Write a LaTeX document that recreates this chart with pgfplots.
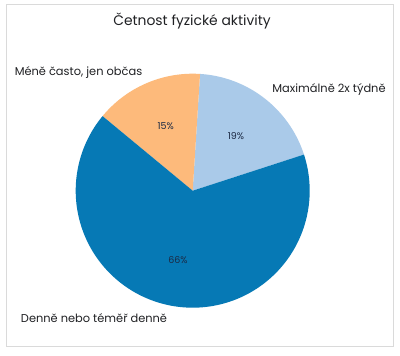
\documentclass[border=0pt]{standalone}
\usepackage{pgfplots}
\pgfplotsset{compat=1.18}
\usepackage{pgfplotstable}
\usepackage{fontspec}
\setmainfont{Poppins}
\definecolor{dblue}{HTML}{0679B5}
\definecolor{lblue}{HTML}{AACAE9}
\definecolor{lorange}{HTML}{FDBA7B}
\definecolor{txt}{HTML}{202124}
\definecolor{pct}{HTML}{1C2A44}
\definecolor{frame}{HTML}{DADADA}
\pgfplotstableread{
label value
D 66
M 19
O 15
}\piedata
\begin{document}
\begin{tikzpicture}[x=1bp,y=1bp]
\pgfplotstablegetelem{0}{value}\of\piedata \let\vD\pgfplotsretval
\pgfplotstablegetelem{1}{value}\of\piedata \let\vM\pgfplotsretval
\pgfplotstablegetelem{2}{value}\of\piedata \let\vO\pgfplotsretval
\pgfmathsetmacro{\aA}{18}
\pgfmathsetmacro{\aB}{\aA+3.6*\vM}
\pgfmathsetmacro{\aC}{\aB+3.6*\vO}
\pgfmathsetmacro{\aD}{\aC+3.6*\vD}
\fill[white] (0,0) rectangle (400,356);
\draw[frame, line width=1bp] (6.5,9.5) rectangle (393.5,351.5);
\begin{axis}[
  at={(75.7bp,48.3bp)}, anchor=south west,
  scale only axis, width=234bp, height=234bp,
  xmin=-1, xmax=1, ymin=-1, ymax=1,
  hide axis, clip=false,
]
\addplot[fill=lblue, draw=none, domain=\aA:\aB, samples=80] ({cos(x)},{sin(x)}) -- (axis cs:0,0) -- cycle;
\addplot[fill=lorange, draw=none, domain=\aB:\aC, samples=80] ({cos(x)},{sin(x)}) -- (axis cs:0,0) -- cycle;
\addplot[fill=dblue, draw=none, domain=\aC:\aD, samples=200] ({cos(x)},{sin(x)}) -- (axis cs:0,0) -- cycle;
\end{axis}
\node[txt, font=\fontsize{13.9bp}{16bp}\selectfont] at (192,335) {Četnost fyzické aktivity};
\node[txt, font=\fontsize{11.4bp}{13bp}\selectfont] at (78.5,283) {Méně často, jen občas};
\node[txt, font=\fontsize{11.4bp}{13bp}\selectfont] at (329,266) {Maximálně 2x týdně};
\node[txt, font=\fontsize{11.4bp}{13bp}\selectfont] at (94,38) {Denně nebo téměř denně};
\node[pct, font=\fontsize{9.5bp}{11bp}\selectfont] at (178,96) {66\%};
\node[pct, font=\fontsize{9.5bp}{11bp}\selectfont] at (165.7,230) {15\%};
\node[pct, font=\fontsize{9.5bp}{11bp}\selectfont] at (236,220) {19\%};
\useasboundingbox (0,0) rectangle (400,356);
\end{tikzpicture}
\end{document}
